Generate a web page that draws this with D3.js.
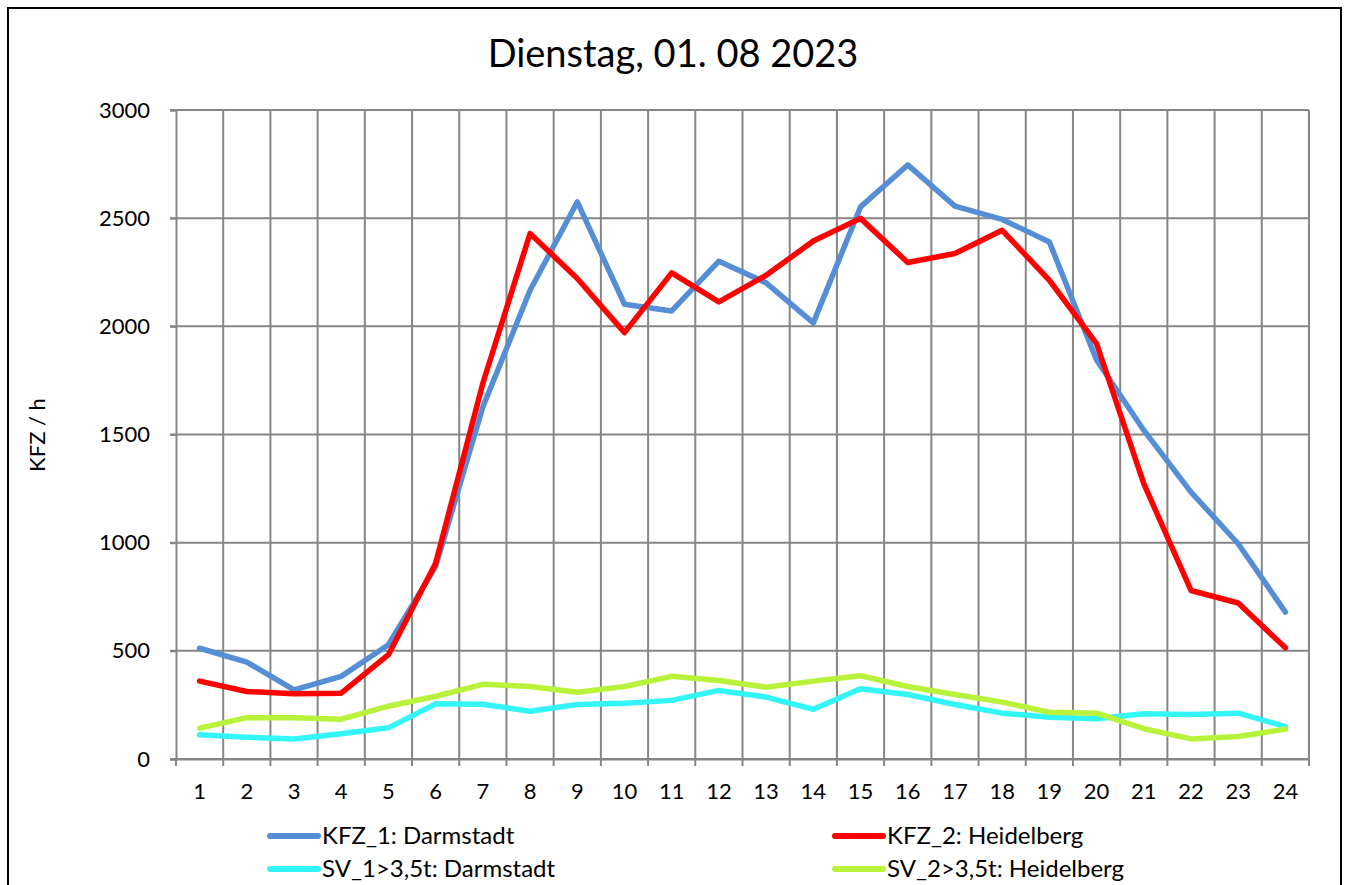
<!DOCTYPE html>
<html>
<head>
<meta charset="utf-8">
<script src="https://cdn.jsdelivr.net/npm/d3@7"></script>
<style>
  body { margin: 0; background: #fff; }
  text { font-family: Lato, "Open Sans", sans-serif; fill: #000; }
</style>
</head>
<body>
<div id="chart"></div>
<script>
// hours of the day
var hours = d3.range(1, 25).map(String);

// KFZ / h per hour
var kfz1Darmstadt = [512, 448, 320, 382, 528, 890, 1627, 2167, 2575, 2102, 2071, 2301,
  2201, 2016, 2552, 2746, 2556, 2494, 2390, 1844, 1520, 1234, 995, 679];
var kfz2Heidelberg = [360, 312, 302, 304, 482, 905, 1737, 2429, 2221, 1971, 2247, 2113,
  2236, 2394, 2499, 2295, 2337, 2444, 2213, 1920, 1273, 779, 721, 514];
var sv1Darmstadt = [112, 101, 92, 117, 144, 255, 253, 221, 252, 258, 271, 317,
  286, 230, 325, 298, 252, 212, 193, 186, 209, 206, 212, 150];
var sv2Heidelberg = [143, 191, 191, 184, 244, 290, 345, 335, 309, 335, 382, 363,
  332, 360, 385, 335, 298, 263, 216, 212, 140, 93, 104, 138];

var seriesNames = ["KFZ_1: Darmstadt", "KFZ_2: Heidelberg", "SV_1>3,5t: Darmstadt", "SV_2>3,5t: Heidelberg"];
var seriesColors = ["#558ed5", "#ff0000", "#33f5f8", "#b9f23a"];
var yTicks = [0, 500, 1000, 1500, 2000, 2500, 3000];

var svgWidth = 1349;
var svgHeight = 885;
var margin = { top: 110, right: 40, bottom: 126, left: 176 };
var width = 1309 - margin.left;
var height = 759 - margin.top;

var svg = d3.select("#chart")
  .append("svg")
  .attr("width", svgWidth)
  .attr("height", svgHeight);

// outer frame
svg.append("rect")
  .attr("x", 8)
  .attr("y", 8)
  .attr("width", 1333)
  .attr("height", 880)
  .attr("fill", "none")
  .attr("stroke", "#000")
  .attr("stroke-width", 2);

svg.append("text")
  .attr("x", 673)
  .attr("y", 67)
  .attr("text-anchor", "middle")
  .style("font-size", "38px")
  .text("Dienstag, 01. 08 2023");

var chartGroup = svg.append("g")
  .attr("transform", `translate(${margin.left}, ${margin.top})`);

var xScale = d3.scaleBand()
  .domain(hours)
  .range([0, width]);

var yScale = d3.scaleLinear()
  .domain([0, 3000])
  .range([height, 0]);

// vertical gridlines on band edges
chartGroup.selectAll(".vgrid")
  .data(hours)
  .enter()
  .append("line")
  .attr("class", "vgrid")
  .attr("x1", d => xScale(d) + xScale.bandwidth())
  .attr("x2", d => xScale(d) + xScale.bandwidth())
  .attr("y1", 0)
  .attr("y2", height + 7)
  .attr("stroke", "#868686")
  .attr("stroke-width", 2);

// horizontal gridlines
chartGroup.selectAll(".hgrid")
  .data(yTicks)
  .enter()
  .append("line")
  .attr("class", "hgrid")
  .attr("x1", -6)
  .attr("x2", width)
  .attr("y1", d => yScale(d))
  .attr("y2", d => yScale(d))
  .attr("stroke", "#868686")
  .attr("stroke-width", 2);

// left axis
var leftAxis = d3.axisLeft(yScale)
  .tickValues(yTicks)
  .tickFormat(d3.format("d"))
  .tickSize(6)
  .tickPadding(20);

var yAxis = chartGroup.append("g")
  .call(leftAxis);
yAxis.select(".domain").attr("stroke", "#868686").attr("stroke-width", 2);
yAxis.selectAll(".tick line").attr("stroke", "#868686").attr("stroke-width", 2);
yAxis.selectAll("text").style("font-size", "22px").style("font-family", "Lato, sans-serif");

// bottom axis labels
var bottomAxis = d3.axisBottom(xScale)
  .tickSize(0)
  .tickPadding(24);

var xAxis = chartGroup.append("g")
  .attr("transform", `translate(0, ${height})`)
  .call(bottomAxis);
xAxis.select(".domain").attr("stroke", "#868686").attr("stroke-width", 2);
xAxis.selectAll("text").style("font-size", "22px").style("font-family", "Lato, sans-serif");
// tick at the left edge
chartGroup.append("line")
  .attr("x1", 0).attr("x2", 0)
  .attr("y1", height).attr("y2", height + 7)
  .attr("stroke", "#868686").attr("stroke-width", 2);

// y-axis title
svg.append("text")
  .attr("transform", "translate(45, 435) rotate(-90)")
  .attr("text-anchor", "middle")
  .style("font-size", "22px")
  .text("KFZ / h");

var allSeries = [kfz1Darmstadt, kfz2Heidelberg, sv1Darmstadt, sv2Heidelberg];

var line = d3.line()
  .x((d, i) => xScale(hours[i]) + xScale.bandwidth() / 2)
  .y(d => yScale(d));

// draw SV lines first, KFZ on top
[2, 3, 0, 1].forEach(function(k) {
  chartGroup.append("path")
    .datum(allSeries[k])
    .attr("fill", "none")
    .attr("stroke", seriesColors[k])
    .attr("stroke-width", 5.5)
    .attr("stroke-linejoin", "round")
    .attr("stroke-linecap", "round")
    .attr("d", line);
});

// legend
var legendPos = [[268, 836], [833, 836], [268, 869], [833, 869]];
var legend = svg.selectAll(".legend")
  .data(seriesNames)
  .enter()
  .append("g")
  .attr("class", "legend")
  .attr("transform", (d, i) => `translate(${legendPos[i][0]}, ${legendPos[i][1]})`);

legend.append("line")
  .attr("x1", 2).attr("x2", 50)
  .attr("y1", 0).attr("y2", 0)
  .attr("stroke", (d, i) => seriesColors[i])
  .attr("stroke-width", 6)
  .attr("stroke-linecap", "round");

legend.append("text")
  .attr("x", 54)
  .attr("y", 8)
  .style("font-size", "24px")
  .text(d => d);
</script>
</body>
</html>
